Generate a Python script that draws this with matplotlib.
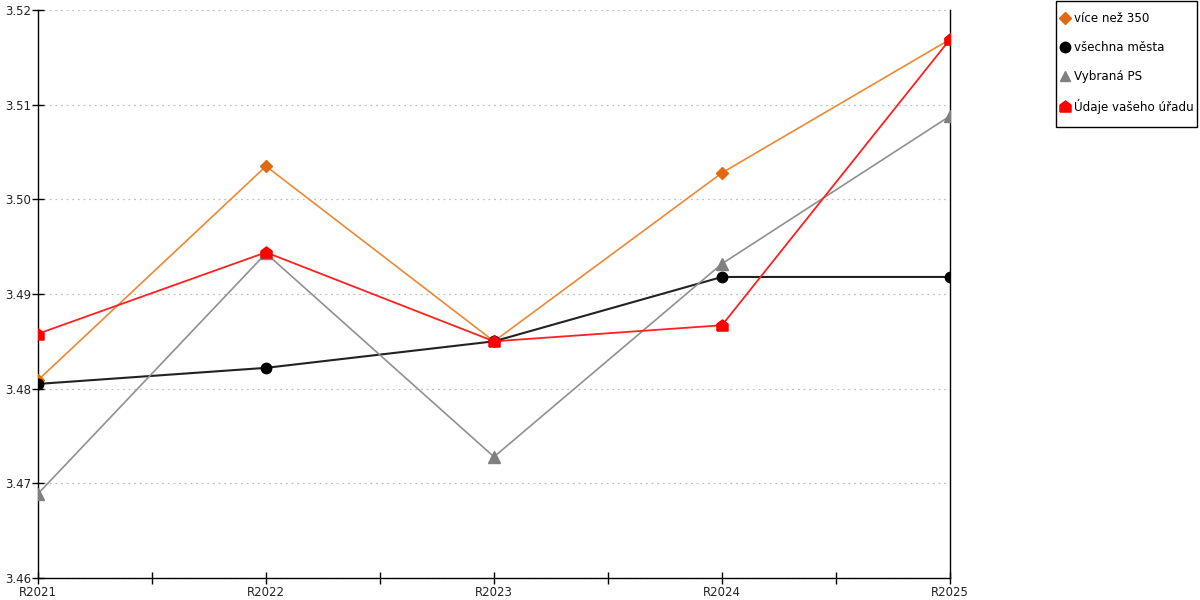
import matplotlib
matplotlib.use('Agg')
import matplotlib.pyplot as plt
from matplotlib.lines import Line2D
from matplotlib.patches import Rectangle
from matplotlib.ticker import MultipleLocator

years = ['R2021', 'R2022', 'R2023', 'R2024', 'R2025']

vice_nez_350 = [3.4809, 3.5035, 3.4850, 3.5028, 3.5169]
vsechna_mesta = [3.4805, 3.4822, 3.4850, 3.4918, 3.4918]
vybrana_ps = [3.4689, 3.4943, 3.4728, 3.4932, 3.5088]
udaje_uradu = [3.4858, 3.4944, 3.4850, 3.4867, 3.5169]

labels = ['více než 350', 'všechna města', 'Vybraná PS', 'Údaje vašeho úřadu']

# "house" shaped marker for the red series
house = [(-1, -1), (1, -1), (1, 0.25), (0, 1), (-1, 0.25), (-1, -1)]

plt.rcParams['font.family'] = ['DejaVu Sans']

fig = plt.figure(figsize=(12, 6), dpi=100)
ax = fig.add_axes([38 / 1200, 22 / 600, 912 / 1200, 568 / 600])

x = list(range(len(years)))
ax.plot(x, vice_nez_350, color='#ee8833', lw=1.2, marker='D', ms=6,
        mfc='#e06a10', mec='#e06a10', zorder=3)
ax.plot(x, vsechna_mesta, color='#222222', lw=1.5, marker='o', ms=7.5,
        mfc='black', mec='black', zorder=4)
ax.plot(x, vybrana_ps, color='#909090', lw=1.2, marker='^', ms=8,
        mfc='#808080', mec='#808080', zorder=5)
ax.plot(x, udaje_uradu, color='#ff2020', lw=1.3, marker=house, ms=8,
        mfc='red', mec='red', zorder=6)

ax.set_xlim(0, len(years) - 1)
ax.set_ylim(3.46, 3.52)
ax.set_xticks(x)
ax.set_xticklabels(years)
ax.xaxis.set_minor_locator(MultipleLocator(0.5))
ax.yaxis.set_major_locator(MultipleLocator(0.01))
ax.yaxis.set_major_formatter(matplotlib.ticker.FormatStrFormatter('%.2f'))

ax.tick_params(axis='both', which='both', direction='inout', length=8,
               width=1, labelsize=8.5, colors='black', labelcolor='#222222')
ax.tick_params(axis='x', pad=2)
ax.tick_params(axis='y', pad=1)

ax.grid(axis='y', linestyle=(0, (1.5, 3)), color='#c0c0c0', lw=0.9)
ax.set_axisbelow(True)

ax.spines['top'].set_visible(False)
for s in ['left', 'right', 'bottom']:
    ax.spines[s].set_color('black')
    ax.spines[s].set_linewidth(1)

handles = [
    Line2D([], [], ls='none', marker='D', ms=6, mfc='#e06a10', mec='#e06a10'),
    Line2D([], [], ls='none', marker='o', ms=7.5, mfc='black', mec='black'),
    Line2D([], [], ls='none', marker='^', ms=7.5, mfc='#808080', mec='#808080'),
    Line2D([], [], ls='none', marker=house, ms=8, mfc='red', mec='red'),
]
fig.legend(handles, labels, loc='upper left',
           bbox_to_anchor=(1061 / 1200, 588 / 600), frameon=False,
           fontsize=8.6, labelspacing=1.33, handlelength=0.7,
           handletextpad=0.4, borderpad=0, borderaxespad=0)
# legend frame drawn separately to get tight side padding
fig.patches.append(Rectangle((1055.5 / 1200, 473 / 600), 141 / 1200, 126.5 / 600,
                             transform=fig.transFigure, fill=False,
                             edgecolor='black', lw=1))

fig.savefig('out.png', dpi=100)
